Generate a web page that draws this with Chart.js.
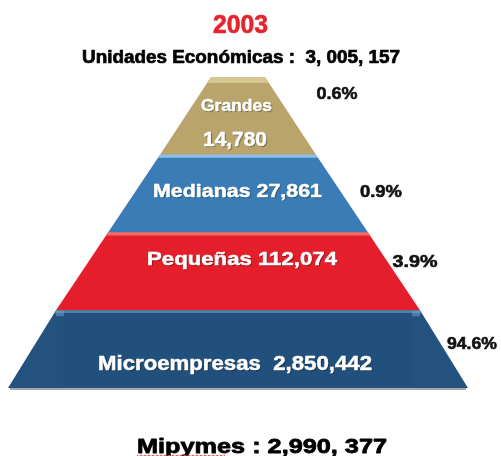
<!DOCTYPE html>
<html>
<head>
<meta charset="utf-8">
<script src="https://cdn.jsdelivr.net/npm/chart.js@4.4.1/dist/chart.umd.min.js"></script>
<style>
  html, body { margin: 0; padding: 0; background: #ffffff; }
  #wrap { width: 501px; height: 456px; }
</style>
</head>
<body>
<div id="wrap"><canvas id="pyramid"></canvas></div>
<script>
// data
const categories = ["Grandes", "Medianas", "Pequeñas", "Microempresas"];
const units = [14780, 27861, 112074, 2850442];
const shares = ["0.6%", "0.9%", "3.9%", "94.6%"];
const year = "2003";
const totalLabel = "Unidades Económicas :  3, 005, 157";
const mipymesLabel = "Mipymes : 2,990, 377";

// pyramid layout (half widths of each band edge, in px of the x scale)
const edgeHalf = [27, 78, 130, 182, 230];
const fills = ["#b9a46b", "#3a7db6", "#e41f2b", "#24527f"];
const highlights = ["#d6c68f", "#8cc0e8", "#f26a6a", "#4f7fae"];
const pctPos = [337, 381, 415, 472];
const FONT = "'Liberation Sans', Arial, sans-serif";

function fmt(n) {
    return n.toLocaleString("en-US");
}

// the source text is stretched sideways, so squeeze each label into its width
function drawFit(ctx, text, cx, base, size, width, heavy) {
    ctx.font = "bold " + size + "px " + FONT;
    const w = ctx.measureText(text).width;
    ctx.save();
    ctx.translate(cx, base);
    ctx.scale(width / w, 1);
    ctx.textAlign = "center";
    ctx.textBaseline = "alphabetic";
    ctx.fillText(text, 0, 0);
    if (heavy) {
        ctx.shadowColor = "rgba(0,0,0,0)";
        ctx.strokeStyle = ctx.fillStyle;
        ctx.lineWidth = heavy;
        ctx.lineJoin = "round";
        ctx.strokeText(text, 0, 0);
    }
    ctx.restore();
}

const pyramidPlugin = {
    id: "pyramid",
    afterDatasetsDraw(chart) {
        const ctx = chart.ctx;
        const x = chart.scales.x;
        const meta = chart.getDatasetMeta(0);

        meta.data.forEach((bar, i) => {
            const top = bar.y - bar.height / 2;
            const bottom = bar.y + bar.height / 2;
            const tl = x.getPixelForValue(-edgeHalf[i]);
            const tr = x.getPixelForValue(edgeHalf[i]);
            const bl = x.getPixelForValue(-edgeHalf[i + 1]);
            const br = x.getPixelForValue(edgeHalf[i + 1]);

            ctx.save();
            ctx.beginPath();
            ctx.moveTo(tl, top);
            ctx.lineTo(tr, top);
            ctx.lineTo(br, bottom);
            ctx.lineTo(bl, bottom);
            ctx.closePath();
            ctx.fillStyle = fills[i];
            ctx.fill();
            ctx.clip();

            // light strip on top of each band
            ctx.fillStyle = highlights[i];
            ctx.fillRect(tl - 5, top, tr - tl + 10, i === 0 ? 6 : 3);

            // flat front face of the bottom block
            if (i === 3) {
                ctx.fillStyle = "#22507c";
                ctx.fillRect(tl + 7, top + 3, tr - tl - 14, bottom - top - 6);
                ctx.fillStyle = "rgba(120,160,200,0.5)";
                ctx.fillRect(tl, top, 8, 6);
                ctx.fillRect(tr - 8, top, 8, 6);
            }
            ctx.restore();

            // shadow line under the bottom block
            if (i === 3) {
                ctx.fillStyle = "#a7a7a7";
                ctx.fillRect(bl + 2, bottom, br - bl - 4, 2);
            }
        });

        // labels on the bands
        const b = meta.data;
        ctx.save();
        ctx.fillStyle = "#ffffff";
        ctx.shadowColor = "rgba(0,0,0,0.45)";
        ctx.shadowOffsetX = 1;
        ctx.shadowOffsetY = 1;
        ctx.shadowBlur = 1;
        drawFit(ctx, categories[0], 236.5, b[0].y - 5, 17, 71, 0.5);
        drawFit(ctx, fmt(units[0]), 235, b[0].y + 30, 20, 64, 0.5);
        drawFit(ctx, categories[1] + " " + fmt(units[1]), 237.5, b[1].y + 3, 18, 169, 0.5);
        drawFit(ctx, categories[2] + " " + fmt(units[2]), 242, b[2].y - 6, 19, 190, 0.5);
        drawFit(ctx, categories[3] + "  " + fmt(units[3]), 235, b[3].y + 21, 20, 274, 0.5);
        ctx.restore();

        // percentage labels
        ctx.save();
        ctx.fillStyle = "#111111";
        const pctDy = [-17, 3, -4, 0];
        const pctW = [41, 42, 45, 50];
        b.forEach((bar, i) => {
            drawFit(ctx, shares[i], pctPos[i], bar.y + pctDy[i], 17, pctW[i], 0.6);
        });
        ctx.restore();

        // titles
        ctx.save();
        ctx.fillStyle = "#e8232b";
        drawFit(ctx, year, 240.5, 33, 25, 55, 0.6);
        ctx.fillStyle = "#000000";
        drawFit(ctx, totalLabel, 241, 63, 18, 318, 0.7);
        drawFit(ctx, mipymesLabel, 262, 453, 21, 250, 0.8);

        // spell-check squiggle under "Mipymes"
        ctx.strokeStyle = "#e05050";
        ctx.lineWidth = 1;
        ctx.beginPath();
        for (let px = 137; px <= 226; px += 2) {
            const py = (px - 137) % 4 === 0 ? 455 : 456.5;
            if (px === 137) ctx.moveTo(px, py); else ctx.lineTo(px, py);
        }
        ctx.stroke();
        ctx.restore();
    }
};

new Chart(document.getElementById("pyramid"), {
    type: "bar",
    data: {
        labels: categories,
        datasets: [{
            label: "Unidades económicas",
            data: edgeHalf.slice(1).map(h => [-h, h]),
            backgroundColor: "rgba(0,0,0,0)",
            borderWidth: 0,
            categoryPercentage: 1,
            barPercentage: 1
        }]
    },
    options: {
        indexAxis: "y",
        responsive: true,
        maintainAspectRatio: false,
        animation: false,
        layout: { padding: { top: 77, bottom: 68, left: 0, right: 0 } },
        plugins: {
            legend: { display: false },
            tooltip: { enabled: false },
            title: { display: false }
        },
        scales: {
            x: { display: false, min: -238, max: 263 },
            y: { display: false }
        }
    },
    plugins: [pyramidPlugin]
});
</script>
</body>
</html>
